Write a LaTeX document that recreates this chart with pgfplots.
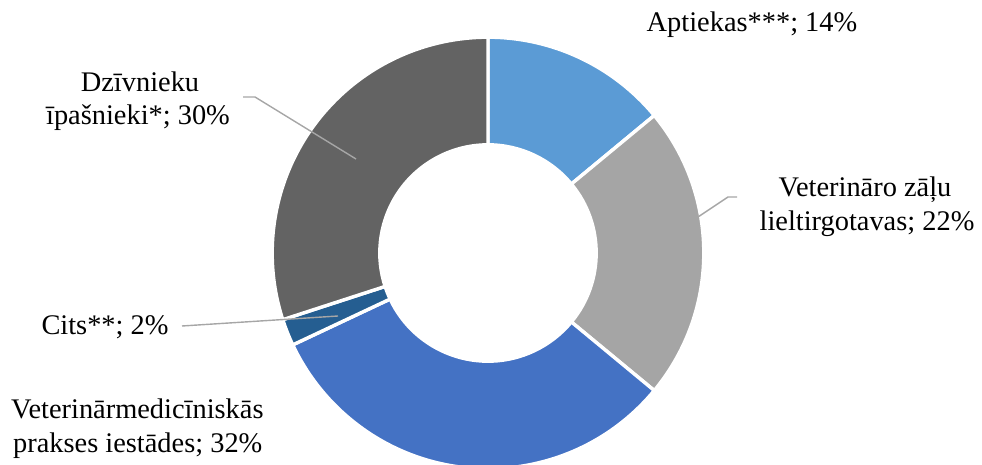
\documentclass[border=0pt]{standalone}
\usepackage{fontspec}
\setmainfont{Liberation Serif}
\usepackage{pgfplots}
\usepackage{pgfplotstable}
\pgfplotsset{compat=1.18}

\definecolor{aptc}{HTML}{5B9BD5}
\definecolor{vzlc}{HTML}{A5A5A5}
\definecolor{vmpc}{HTML}{4472C4}
\definecolor{citc}{HTML}{255E91}
\definecolor{dzic}{HTML}{636363}
\definecolor{leader}{HTML}{A6A6A6}

% shares in percent, clockwise from 12 o'clock
\pgfplotstableread{
share color
14 aptc
22 vzlc
32 vmpc
2  citc
30 dzic
}\sharetable

\begin{document}
\begin{tikzpicture}[lbl/.style={font=\fontsize{28.5}{34}\selectfont, inner sep=0pt, anchor=base}]
\useasboundingbox (0,0) rectangle (982bp,465bp);
\clip (0,0) rectangle (982bp,465bp);
\begin{axis}[
	scale only axis,
	width=982bp,
	height=465bp,
	xmin=0, xmax=982,
	ymin=0, ymax=465,
	hide axis,
	clip=false]

	% donut slices from the table
	\pgfplotstablegetrowsof{\sharetable}
	\pgfmathtruncatemacro\lastrow{\pgfplotsretval-1}
	\def\cum{90}
	\pgfplotsforeachungrouped \i in {0,...,\lastrow}{
		\pgfplotstablegetelem{\i}{share}\of\sharetable
		\let\v\pgfplotsretval
		\pgfplotstablegetelem{\i}{color}\of\sharetable
		\let\c\pgfplotsretval
		\pgfmathsetmacro\endang{\cum-3.6*\v}
		\edef\temp{\noexpand\filldraw[fill=\c, draw=white, line width=3.4bp, line join=miter]
			([shift={(\cum:215.8bp)}]axis cs:488,212) arc[start angle=\cum, end angle=\endang, radius=215.8bp]
			-- ([shift={(\endang:108.2bp)}]axis cs:488,212) arc[start angle=\endang, end angle=\cum, radius=108.2bp]
			-- cycle;}
		\temp
		\let\cum\endang
	}

	% leader lines
	\draw[leader, line width=1.4bp] (axis cs:737,268) -- (axis cs:728,268) -- (axis cs:698,248);
	\draw[leader, line width=1.4bp] (axis cs:243,368) -- (axis cs:255,368) -- (axis cs:356,306);
	\draw[leader, line width=1.4bp] (axis cs:182,139) -- (axis cs:338,149);

	% labels
	\node[lbl] at (axis cs:752,433) {Aptiekas***; 14\%};
	\node[lbl] at (axis cs:865,268) {Veterināro zāļu};
	\node[lbl] at (axis cs:867,234) {lieltirgotavas; 22\%};
	\node[lbl] at (axis cs:140,373) {Dzīvnieku};
	\node[lbl] at (axis cs:138,340) {īpašnieki*; 30\%};
	\node[lbl] at (axis cs:105,130) {Cits**; 2\%};
	\node[lbl, anchor=base west] at (axis cs:11,46) {Veterinārmedicīniskās};
	\node[lbl, anchor=base west] at (axis cs:13,13) {prakses iestādes; 32\%};
\end{axis}
\end{tikzpicture}
\end{document}
